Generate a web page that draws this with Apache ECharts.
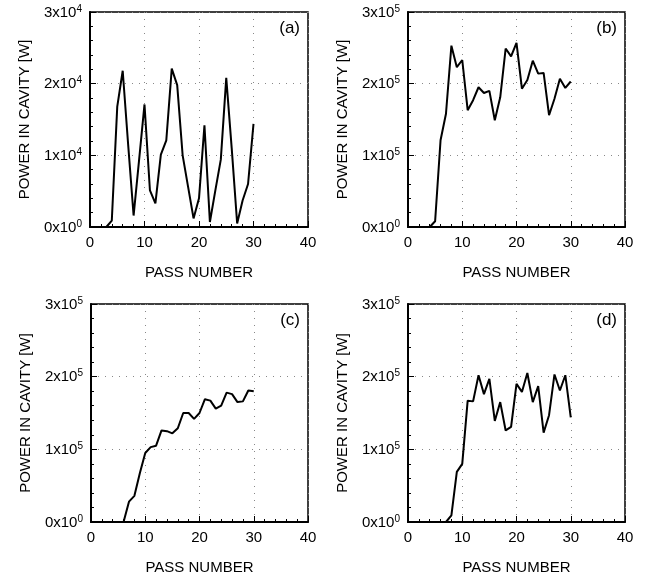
<!DOCTYPE html>
<html>
<head>
<meta charset="utf-8">
<script src="https://cdn.jsdelivr.net/npm/echarts@6/dist/echarts.min.js"></script>
<style>html,body{margin:0;padding:0;background:#fff;}#c{width:647px;height:578px;}</style>
</head>
<body>
<div id="c"></div>
<script>
// pass numbers 1..30
var passes = [1,2,3,4,5,6,7,8,9,10,11,12,13,14,15,16,17,18,19,20,21,22,23,24,25,26,27,28,29,30];
// panel (a) values, units of 1e4 W
var powerA = [0,0,0,0.09,1.68,2.18,1.15,0.16,0.93,1.71,0.51,0.33,1.01,1.21,2.21,1.98,1.0,0.56,0.12,0.40,1.42,0.07,0.51,0.94,2.08,1.1,0.05,0.37,0.6,1.44];
// panel (b) values, units of 1e5 W
var powerB = [0,0,0,0,0.08,1.21,1.58,2.53,2.23,2.33,1.63,1.77,1.95,1.87,1.90,1.49,1.81,2.49,2.38,2.57,1.93,2.05,2.32,2.14,2.15,1.56,1.79,2.07,1.94,2.03];
// panel (c) values, units of 1e5 W
var powerC = [0,0,0,0,0,0,0.28,0.36,0.67,0.95,1.03,1.05,1.26,1.25,1.22,1.29,1.50,1.50,1.42,1.50,1.69,1.67,1.56,1.60,1.78,1.76,1.65,1.66,1.81,1.80];
// panel (d) values, units of 1e5 W
var powerD = [0,0,0,0,0,0,0,0.09,0.69,0.80,1.67,1.66,2.02,1.76,1.97,1.39,1.65,1.26,1.31,1.90,1.79,2.05,1.65,1.87,1.23,1.47,2.03,1.81,2.02,1.44];

var xTicks = [0,10,20,30,40];
var yTicksA = [['0x10','0'],['1x10','4'],['2x10','4'],['3x10','4']];
var yTicksB = [['0x10','0'],['1x10','5'],['2x10','5'],['3x10','5']];
var panelLabels = ['(a)','(b)','(c)','(d)'];
var xTitle = 'PASS NUMBER';
var yTitle = 'POWER IN CAVITY [W]';

var FONT = 'Liberation Sans, Arial, Helvetica, sans-serif';
var grids = [
  {left:90, top:12, width:218, height:215},
  {left:408, top:12, width:217, height:215},
  {left:91, top:304, width:217, height:218},
  {left:408, top:304, width:217, height:218}
];
var datasets = [powerA, powerB, powerC, powerD];
var tickSets = [yTicksA, yTicksB, yTicksB, yTicksB];

var option = {
  animation:false,
  backgroundColor:'#fff',
  grid: grids.map(function(g){ return Object.assign({show:true, borderColor:'#000', borderWidth:1.5, backgroundColor:'transparent'}, g); }),
  xAxis: grids.map(function(g,i){
    return {
      type:'value', gridIndex:i, min:0, max:40, interval:10,
      name:xTitle, nameLocation:'middle', nameGap:38,
      nameTextStyle:{fontFamily:FONT, fontSize:15, color:'#000'},
      axisLine:{show:true, onZero:false, lineStyle:{color:'#000', width:2}},
      axisTick:{show:true, inside:true, length:6, lineStyle:{color:'#000'}},
      minorTick:{show:true, splitNumber:5, length:3, lineStyle:{color:'#000'}},
      axisLabel:{fontFamily:FONT, fontSize:15, color:'#000', margin:8,
        formatter:function(v){ return xTicks.indexOf(v) >= 0 ? String(v) : ''; }},
      splitLine:{show:true, lineStyle:{color:'#888', type:[1,6], width:1}}
    };
  }),
  yAxis: grids.map(function(g,i){
    var ticks = tickSets[i];
    return {
      type:'value', gridIndex:i, min:0, max:3, interval:1,
      name:yTitle, nameLocation:'middle', nameGap:58, nameRotate:90,
      nameTextStyle:{fontFamily:FONT, fontSize:15, color:'#000'},
      axisLine:{show:true, onZero:false, lineStyle:{color:'#000', width:2}},
      axisTick:{show:true, inside:true, length:6, lineStyle:{color:'#000'}},
      minorTick:{show:true, splitNumber:5, length:3, lineStyle:{color:'#000'}},
      axisLabel:{margin:8,
        formatter:function(v){ var t = ticks[Math.round(v)]; return t ? '{b|'+t[0]+'}{s|'+t[1]+'}' : ''; },
        rich:{
          b:{fontFamily:FONT, fontSize:15, color:'#000', lineHeight:16, verticalAlign:'bottom'},
          s:{fontFamily:FONT, fontSize:10, color:'#000', lineHeight:16, verticalAlign:'top', padding:[0,0,6,0]}
        }},
      splitLine:{show:true, lineStyle:{color:'#888', type:[1,6], width:1}}
    };
  }),
  series: datasets.map(function(d,i){
    return {
      type:'line', xAxisIndex:i, yAxisIndex:i, showSymbol:false, symbol:'none',
      lineStyle:{color:'#000', width:2}, z:5,
      data: passes.map(function(p,k){ return [p, d[k]]; })
    };
  }),
  graphic: grids.map(function(g,i){
    return {type:'text', right: 647 - (g.left + g.width) + 8, top: g.top + 8,
      style:{text:panelLabels[i], font:'17px ' + FONT, fill:'#000'}};
  })
};
var chart = echarts.init(document.getElementById('c'), null, {renderer:'canvas'});
chart.setOption(option);
</script>
</body>
</html>
